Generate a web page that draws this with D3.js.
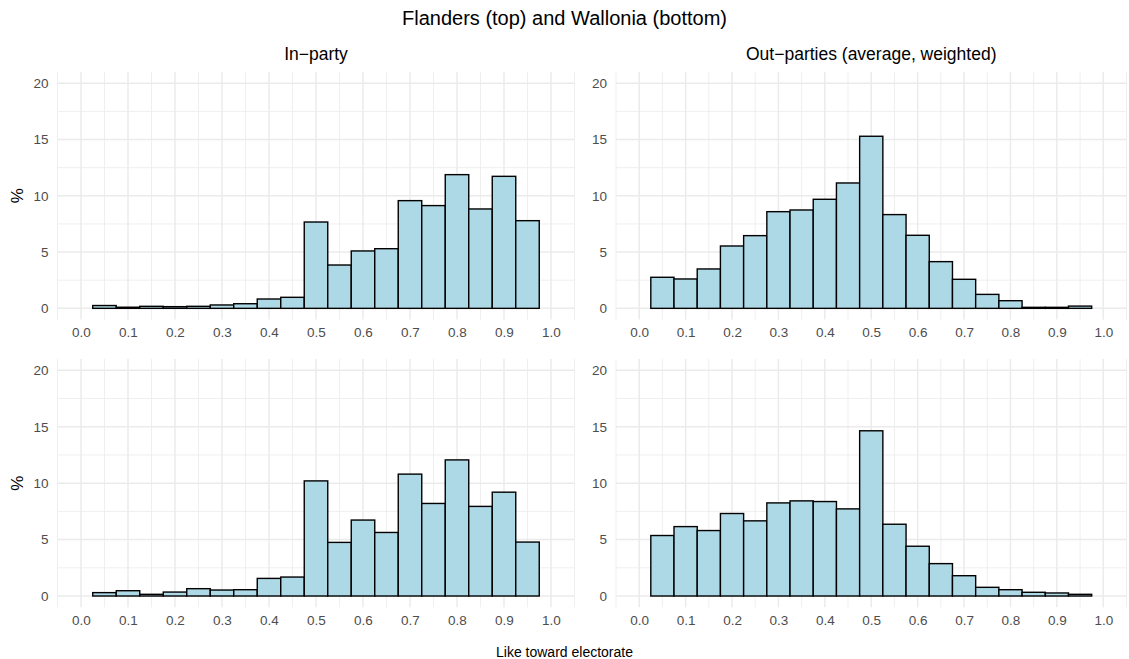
<!DOCTYPE html>
<html>
<head>
<meta charset="utf-8">
<script src="https://cdn.jsdelivr.net/npm/d3@7"></script>
<style>
  body { margin: 0; background: #fff; }
  text { font-family: "Liberation Sans", Arial, sans-serif; }
</style>
</head>
<body>
<div id="chart"></div>
<script>
// bin lower edges (width 0.05)
const binStarts = [0.025, 0.075, 0.125, 0.175, 0.225, 0.275, 0.325, 0.375, 0.425, 0.475,
  0.525, 0.575, 0.625, 0.675, 0.725, 0.775, 0.825, 0.875, 0.925];
const binWidth = 0.05;

const flandersIn = [0.25, 0.1, 0.18, 0.15, 0.18, 0.3, 0.41, 0.83, 0.98, 7.67,
  3.85, 5.1, 5.3, 9.57, 9.13, 11.88, 8.83, 11.73, 7.79];
const flandersOut = [2.76, 2.61, 3.5, 5.54, 6.46, 8.59, 8.74, 9.69, 11.14, 15.29,
  8.33, 6.49, 4.15, 2.58, 1.24, 0.68, 0.09, 0.09, 0.2];
const walloniaIn = [0.3, 0.47, 0.15, 0.35, 0.65, 0.53, 0.56, 1.56, 1.68, 10.2,
  4.75, 6.73, 5.63, 10.8, 8.2, 12.06, 7.94, 9.2, 4.78];
const walloniaOut = [5.36, 6.15, 5.8, 7.31, 6.66, 8.25, 8.43, 8.37, 7.72, 14.64,
  6.36, 4.41, 2.87, 1.8, 0.77, 0.56, 0.33, 0.27, 0.15];

const xTicks = [0, 0.1, 0.2, 0.3, 0.4, 0.5, 0.6, 0.7, 0.8, 0.9, 1.0];
const xMinor = [-0.05, 0.05, 0.15, 0.25, 0.35, 0.45, 0.55, 0.65, 0.75, 0.85, 0.95, 1.05];
const yTicks = [0, 5, 10, 15, 20];
const yMinor = [2.5, 7.5, 12.5, 17.5];

const columnTitles = ["In\u2212party", "Out\u2212parties (average, weighted)"];
const title = "Flanders (top) and Wallonia (bottom)";
const xTitle = "Like toward electorate";
const yTitle = "%";

const width = 1129, height = 659;
const svg = d3.select("#chart").append("svg")
  .attr("width", width)
  .attr("height", height);

// panel boxes
const cols = [{ left: 57.5, right: 574.5 }, { left: 616, right: 1126.5 }];
const rows = [{ top: 72, bottom: 319.6 }, { top: 359, bottom: 607.3 }];

const panels = [
  { col: 0, row: 0, values: flandersIn },
  { col: 1, row: 0, values: flandersOut },
  { col: 0, row: 1, values: walloniaIn },
  { col: 1, row: 1, values: walloniaOut }
];

panels.forEach(p => {
  const c = cols[p.col], r = rows[p.row];
  const x = d3.scaleLinear().domain([-0.05, 1.05]).range([c.left, c.right]);
  const y = d3.scaleLinear().domain([-1, 21]).range([r.bottom, r.top]);
  const g = svg.append("g");

  // minor grid
  g.selectAll("line.xminor").data(xMinor).join("line")
    .attr("x1", d => x(d)).attr("x2", d => x(d))
    .attr("y1", r.top).attr("y2", r.bottom)
    .attr("stroke", "#ebebeb").attr("stroke-width", 0.8);
  g.selectAll("line.yminor").data(yMinor).join("line")
    .attr("y1", d => y(d)).attr("y2", d => y(d))
    .attr("x1", c.left).attr("x2", c.right)
    .attr("stroke", "#ebebeb").attr("stroke-width", 0.8);
  // major grid
  g.selectAll("line.xmajor").data(xTicks).join("line")
    .attr("x1", d => x(d)).attr("x2", d => x(d))
    .attr("y1", r.top).attr("y2", r.bottom)
    .attr("stroke", "#ebebeb").attr("stroke-width", 1.5);
  g.selectAll("line.ymajor").data(yTicks).join("line")
    .attr("y1", d => y(d)).attr("y2", d => y(d))
    .attr("x1", c.left).attr("x2", c.right)
    .attr("stroke", "#ebebeb").attr("stroke-width", 1.5);

  // bars
  g.selectAll("rect").data(binStarts).join("rect")
    .attr("x", d => x(d))
    .attr("width", d => x(d + binWidth) - x(d))
    .attr("y", (d, i) => y(p.values[i]))
    .attr("height", (d, i) => y(0) - y(p.values[i]))
    .attr("fill", "#add8e6")
    .attr("stroke", "#000")
    .attr("stroke-width", 1.4);

  // axes (labels only)
  const xAxis = g.append("g")
    .attr("transform", `translate(0,${r.bottom + 5})`)
    .call(d3.axisBottom(x).tickValues(xTicks).tickFormat(d3.format(".1f")).tickSize(0).tickPadding(3));
  const yAxis = g.append("g")
    .attr("transform", `translate(${c.left - 6},0)`)
    .call(d3.axisLeft(y).tickValues(yTicks).tickSize(0).tickPadding(3));
  [xAxis, yAxis].forEach(a => {
    a.select(".domain").remove();
    a.selectAll("text")
      .style("font-family", "'Liberation Sans', Arial, sans-serif")
      .style("font-size", "13.5px")
      .attr("fill", "#4d4d4d");
  });

  // y title on left column
  if (p.col === 0) {
    svg.append("text")
      .attr("transform", `translate(23,${(r.top + r.bottom) / 2}) rotate(-90)`)
      .attr("text-anchor", "middle")
      .style("font-size", "17px")
      .attr("fill", "#000")
      .text(yTitle);
  }
});

// column titles
cols.forEach((c, i) => {
  svg.append("text")
    .attr("x", (c.left + c.right) / 2)
    .attr("y", 59.5)
    .attr("text-anchor", "middle")
    .style("font-size", "17.5px")
    .attr("fill", "#000")
    .text(columnTitles[i]);
});

svg.append("text")
  .attr("x", width / 2)
  .attr("y", 25)
  .attr("text-anchor", "middle")
  .style("font-size", "20px")
  .attr("fill", "#000")
  .text(title);

svg.append("text")
  .attr("x", width / 2)
  .attr("y", 657)
  .attr("text-anchor", "middle")
  .style("font-size", "14px")
  .attr("fill", "#000")
  .text(xTitle);
</script>
</body>
</html>
